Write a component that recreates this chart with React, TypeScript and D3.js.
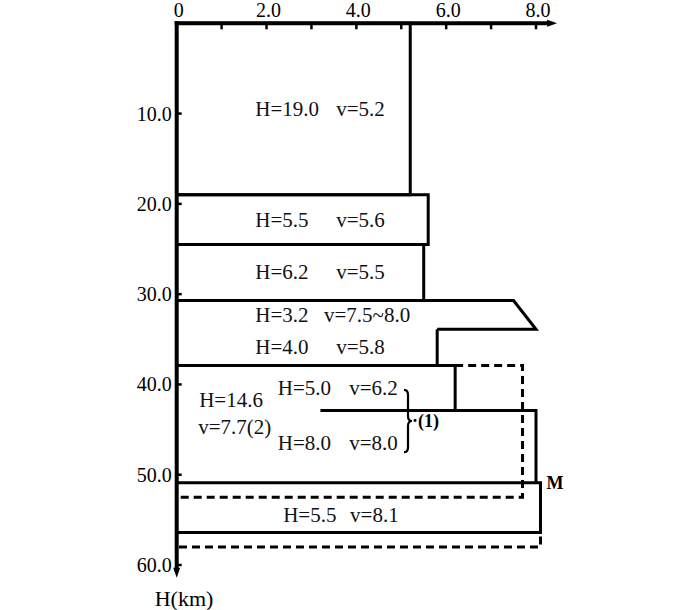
import React from "react";
import * as d3 from "d3";

// layer thickness (km) and velocity (km/s), top to bottom
const upperH = [19.0, 5.5, 6.2, 3.2, 4.0];
const upperV = ["5.2", "5.6", "5.5", "7.5~8.0", "5.8"];
const upperVTop = [5.2, 5.6, 5.5, 7.5, 5.8];
const upperVBot = [5.2, 5.6, 5.5, 8.0, 5.8];

// model (1): two layers below the upper crust
const model1H = [5.0, 8.0];
const model1V = [6.2, 8.0];

// model (2): one layer
const model2H = [14.6];
const model2V = [7.7];

// uppermost mantle
const mantleH = [5.5];
const mantleV = [8.1];

const xTicks = [0, 1, 2, 3, 4, 5, 6, 7, 8];
const xLabels = ["0", "2.0", "4.0", "6.0", "8.0"];
const yTicks = [10, 20, 30, 40, 50, 60];
const yLabels = ["10.0", "20.0", "30.0", "40.0", "50.0", "60.0"];

const FONT = "'Liberation Serif', 'Times New Roman', serif";

const App = () => {
  const x = d3.scaleLinear().domain([0, 8]).range([176.7, 536]);
  const y = d3.scaleLinear().domain([0, 60]).range([23.3, 565]);
  const line = d3
    .line<[number, number]>()
    .x(d => x(d[0]))
    .y(d => y(d[1]));

  // cumulative depths
  const upperBot = Array.from(d3.cumsum(upperH));
  const upperTop = [0, ...upperBot.slice(0, -1)];
  const base = upperBot[upperBot.length - 1]; // 37.9
  const m1Bot = Array.from(d3.cumsum(model1H)).map(d => d + base);
  const m2Bot = base + model2H[0];
  const mantleBotSolid = m1Bot[1] + mantleH[0];
  const mantleBotDash = m2Bot + mantleH[0];

  const paths: string[] = [];
  upperH.forEach((h, i) => {
    // the slanted layer and the one below it share a boundary only on the right
    const pts: [number, number][] = [];
    if (i !== 4) pts.push([0, upperTop[i]]);
    pts.push([upperVTop[i], upperTop[i]]);
    pts.push([upperVBot[i], upperBot[i]]);
    pts.push([i === 3 ? upperVTop[4] : 0, upperBot[i]]);
    paths.push(line(pts) as string);
  });
  // model (1)
  paths.push(
    line([
      [0, base],
      [model1V[0], base],
      [model1V[0], m1Bot[0]]
    ]) as string
  );
  paths.push(
    line([
      [3.2, m1Bot[0]],
      [model1V[1], m1Bot[0]],
      [model1V[1], m1Bot[1]]
    ]) as string
  );
  // mantle solid (under model 1)
  paths.push(
    line([
      [0, m1Bot[1]],
      [mantleV[0], m1Bot[1]],
      [mantleV[0], mantleBotSolid],
      [0, mantleBotSolid]
    ]) as string
  );

  // dashed model (2)
  const dashed = [
    line([
      [model1V[0], base],
      [model2V[0], base],
      [model2V[0], m2Bot],
      [0, m2Bot]
    ]) as string,
    line([
      [mantleV[0], mantleBotSolid - 1],
      [mantleV[0], mantleBotDash],
      [0, mantleBotDash]
    ]) as string
  ];

  const axisEndX = x(8.47);
  const axisEndY = y(61.4);

  const txt = {
    fontFamily: FONT,
    fontSize: 21,
    fill: "#111"
  };

  const bx = x(5.15);
  const by0 = y(40.6);
  const by1 = y(47.5);
  const bm = (by0 + by1) / 2;

  return (
    <svg
      width={700}
      height={610}
      style={{ position: "absolute", left: 0, top: 0, background: "#fff" }}
    >
      {/* layer outlines */}
      {paths.map((d, i) => (
        <path key={i} d={d} fill="none" stroke="#000" strokeWidth={3} strokeLinejoin="miter" />
      ))}
      {dashed.map((d, i) => (
        <path
          key={"d" + i}
          d={d}
          fill="none"
          stroke="#000"
          strokeWidth={3}
          strokeDasharray="8,5"
        />
      ))}

      {/* x axis at top */}
      <line x1={x(0) - 2} x2={axisEndX - 6} y1={y(0)} y2={y(0)} stroke="#000" strokeWidth={4} />
      <path
        d={`M${axisEndX},${y(0)} L${axisEndX - 10},${y(0) - 3.5} L${axisEndX - 10},${y(0) + 3.5} Z`}
        fill="#000"
      />
      {xTicks.slice(1).map(t => (
        <line key={t} x1={x(t)} x2={x(t)} y1={y(0)} y2={y(0) + 6} stroke="#000" strokeWidth={2.5} />
      ))}
      {xLabels.map((l, i) => (
        <text
          key={l}
          x={x(i * 2) + 2}
          y={17}
          textAnchor="middle"
          style={{ fontFamily: FONT, fontSize: 20 }}
        >
          {l}
        </text>
      ))}

      {/* y axis at left */}
      <line x1={x(0)} x2={x(0)} y1={y(0) - 2} y2={axisEndY - 6} stroke="#000" strokeWidth={4} />
      <path
        d={`M${x(0)},${axisEndY} L${x(0) - 3.5},${axisEndY - 10} L${x(0) + 3.5},${axisEndY - 10} Z`}
        fill="#000"
      />
      {yTicks.map(t => (
        <line key={t} x1={x(0)} x2={x(0) + 5} y1={y(t)} y2={y(t)} stroke="#000" strokeWidth={2.5} />
      ))}
      {yLabels.map((l, i) => (
        <text
          key={l}
          x={x(0) - 5}
          y={y(yTicks[i]) + 7}
          textAnchor="end"
          style={{ fontFamily: FONT, fontSize: 20 }}
        >
          {l}
        </text>
      ))}
      <text x={184} y={606} textAnchor="middle" style={{ fontFamily: FONT, fontSize: 22 }}>
        H(km)
      </text>

      {/* upper crust labels */}
      {upperH.map((h, i) => {
        const cy = y((upperTop[i] + upperBot[i]) / 2);
        return (
          <g key={"u" + i}>
            <text x={x(1.75)} y={cy} dominantBaseline="central" style={txt}>
              {"H=" + h.toFixed(1)}
            </text>
            <text
              x={x(upperV[i].length > 3 ? 3.28 : 3.55)}
              y={cy}
              dominantBaseline="central"
              style={txt}
            >
              {"v=" + upperV[i]}
            </text>
          </g>
        );
      })}

      {/* model (1) labels */}
      {model1H.map((h, i) => {
        const top = i === 0 ? base : m1Bot[0];
        const cy = y((top + m1Bot[i]) / 2) - (i === 1 ? 4 : 0);
        return (
          <g key={"m" + i}>
            <text x={x(2.25)} y={cy} dominantBaseline="central" style={txt}>
              {"H=" + h.toFixed(1)}
            </text>
            <text x={x(3.84)} y={cy} dominantBaseline="central" style={txt}>
              {"v=" + model1V[i].toFixed(1)}
            </text>
          </g>
        );
      })}

      {/* model (2) labels */}
      <text x={x(0.5)} y={y(41.7)} dominantBaseline="central" style={txt}>
        {"H=" + model2H[0].toFixed(1)}
      </text>
      <text x={x(0.48)} y={y(44.7)} dominantBaseline="central" style={txt}>
        {"v=" + model2V[0].toFixed(1) + "(2)"}
      </text>

      {/* mantle label */}
      <text x={x(2.37)} y={y((m1Bot[1] + mantleBotDash) / 2)} dominantBaseline="central" style={txt}>
        {"H=" + mantleH[0].toFixed(1)}
      </text>
      <text x={x(3.86)} y={y((m1Bot[1] + mantleBotDash) / 2)} dominantBaseline="central" style={txt}>
        {"v=" + mantleV[0].toFixed(1)}
      </text>

      {/* brace for model (1) */}
      <path
        d={`M${bx - 4},${by0} Q${bx},${by0} ${bx},${by0 + 5} L${bx},${bm - 5} Q${bx},${bm} ${bx + 4},${bm} Q${bx},${bm} ${bx},${bm + 5} L${bx},${by1 - 5} Q${bx},${by1} ${bx - 4},${by1}`}
        fill="none"
        stroke="#000"
        strokeWidth={2.2}
      />
      <text
        x={bx + 4}
        y={bm}
        dominantBaseline="central"
        style={{ fontFamily: FONT, fontSize: 18, fontWeight: "bold" }}
      >
        ·(1)
      </text>
      <text
        x={x(mantleV[0]) + 6}
        y={y(m1Bot[1])}
        dominantBaseline="central"
        style={{ fontFamily: FONT, fontSize: 18, fontWeight: "bold" }}
      >
        M
      </text>
    </svg>
  );
};

export default App;
